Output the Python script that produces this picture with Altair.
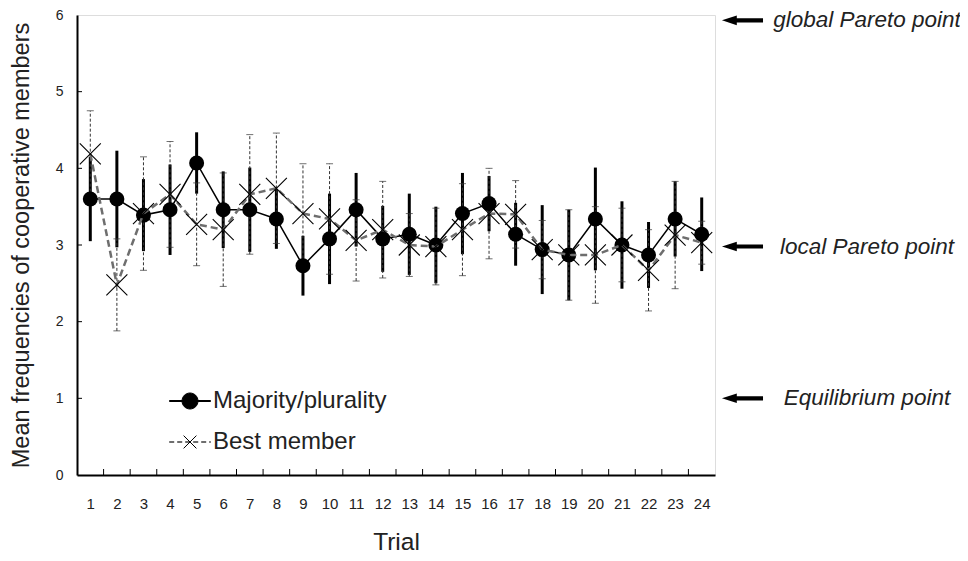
import altair as alt
import pandas as pd

# ---------------- data ----------------
trials = list(range(1, 25))
maj_mean = [3.60, 3.60, 3.39, 3.46, 4.07, 3.46, 3.46, 3.34, 2.73, 3.08, 3.46, 3.08,
            3.14, 3.00, 3.41, 3.54, 3.14, 2.94, 2.87, 3.34, 3.00, 2.87, 3.34, 3.14]
maj_err = [0.55, 0.63, 0.47, 0.59, 0.40, 0.50, 0.55, 0.39, 0.39, 0.59, 0.48, 0.43,
           0.53, 0.50, 0.53, 0.36, 0.41, 0.58, 0.59, 0.67, 0.57, 0.43, 0.49, 0.48]
best_mean = [4.19, 2.48, 3.41, 3.66, 3.27, 3.20, 3.66, 3.74, 3.41, 3.34, 3.06, 3.20,
             3.00, 2.98, 3.20, 3.41, 3.40, 2.94, 2.87, 2.87, 3.00, 2.67, 3.13, 3.03]
best_err = [0.56, 0.60, 0.74, 0.69, 0.54, 0.74, 0.78, 0.72, 0.65, 0.72, 0.53, 0.63,
            0.41, 0.50, 0.60, 0.59, 0.44, 0.38, 0.59, 0.63, 0.48, 0.53, 0.70, 0.28]
series_names = ["Majority/plurality", "Best member"]
y_tick_values = [0, 1, 2, 3, 4, 5, 6]
y_inner_ticks = [1, 2, 3, 4, 5]
x_inner_ticks = [t + 0.5 for t in range(1, 24)]
ann_labels = ["global Pareto point", "local Pareto point", "Equilibrium point"]
ann_values = [5.93, 2.98, 1.0]

maj = pd.DataFrame({"trial": trials, "mean": maj_mean,
                    "lo": [m - e for m, e in zip(maj_mean, maj_err)],
                    "hi": [m + e for m, e in zip(maj_mean, maj_err)]})
best = pd.DataFrame({"trial": trials, "mean": best_mean,
                     "lo": [m - e for m, e in zip(best_mean, best_err)],
                     "hi": [m + e for m, e in zip(best_mean, best_err)]})
ann = pd.DataFrame({"label": ann_labels, "val": ann_values})
yt = pd.DataFrame({"v": y_inner_ticks})
xt = pd.DataFrame({"t": x_inner_ticks})
# second legend (markers only) gets its own domain so it is not merged with the line legend
marker_names = [s + " " for s in series_names]
leg = pd.DataFrame({"series": series_names, "series_b": marker_names})

FONT = "Liberation Sans"
x_scale = alt.Scale(domain=[0.5, 24.5], nice=False, zero=False)
y_scale = alt.Scale(domain=[0, 6], nice=False, zero=False)
x_axis = alt.Axis(values=trials, title="Trial", ticks=False, tickSize=0, grid=False,
                  labelPadding=21, titlePadding=19, labelFontSize=15, titleFontSize=24.5,
                  labelFlush=False, labelOverlap=False, domainWidth=2, domainColor="black",
                  labelColor="#222", titleColor="#222", titleFontWeight="normal",
                  labelFont=FONT, titleFont=FONT)
y_axis = alt.Axis(values=y_tick_values, title="Mean frequencies of cooperative members",
                  ticks=False, tickSize=0, grid=False, labelPadding=14, titlePadding=22,
                  labelFontSize=14, titleFontSize=23.5, labelFlush=False, domainWidth=2,
                  domainColor="black", labelColor="#222", titleColor="#222",
                  titleFontWeight="normal", labelFont=FONT, titleFont=FONT)

H = 460


def X(f):
    return alt.X(f, scale=x_scale, axis=x_axis)


def Y(f):
    return alt.Y(f, scale=y_scale, axis=y_axis)


maj_err_l = alt.Chart(maj).mark_rule(color="black", strokeWidth=3).encode(
    x=X("trial:Q"), y=Y("lo:Q"), y2="hi:Q")
best_err_l = alt.Chart(best).mark_rule(color="#333", strokeWidth=1, strokeDash=[3, 2]).encode(
    x=X("trial:Q"), y=Y("lo:Q"), y2="hi:Q")
best_cap_lo = alt.Chart(best).mark_tick(color="#333", orient="horizontal", size=7, thickness=1).encode(
    x=X("trial:Q"), y=Y("lo:Q"))
best_cap_hi = alt.Chart(best).mark_tick(color="#333", orient="horizontal", size=7, thickness=1).encode(
    x=X("trial:Q"), y=Y("hi:Q"))
maj_line = alt.Chart(maj).mark_line(color="black", strokeWidth=1.5).encode(
    x=X("trial:Q"), y=Y("mean:Q"))
maj_pts = alt.Chart(maj).mark_point(shape="circle", filled=True, color="black", size=225, opacity=1).encode(
    x=X("trial:Q"), y=Y("mean:Q"))
best_line = alt.Chart(best).mark_line(color="#6e6e6e", strokeWidth=2.5, strokeDash=[7, 4]).encode(
    x=X("trial:Q"), y=Y("mean:Q"))
best_pts = alt.Chart(best).mark_point(shape="M-1,-1L1,1M-1,1L1,-1", filled=False, color="black",
                                      strokeWidth=1.1, size=441, opacity=1).encode(
    x=X("trial:Q"), y=Y("mean:Q"))

y_ticks_l = alt.Chart(yt).mark_rule(color="black", strokeWidth=1).encode(
    y=Y("v:Q"), x=alt.value(0), x2=alt.value(5))
x_ticks_l = alt.Chart(xt).mark_rule(color="black", strokeWidth=1).encode(
    x=X("t:Q"), y=alt.value(H), y2=alt.value(H - 6))

arrow_path = "M-1.8,0L-0.5,-0.42L-0.5,-0.18L1.8,-0.18L1.8,0.18L-0.5,0.18L-0.5,0.42Z"
ann_arrows = alt.Chart(ann).mark_point(shape=arrow_path, filled=True, color="black", size=520,
                                       opacity=1).encode(
    y=Y("val:Q"), x=alt.value(665.5))
ann_text = alt.Chart(ann).mark_text(font=FONT, fontSize=22.5, fontStyle="italic", color="#222",
                                    align="center", baseline="middle").encode(
    y=Y("val:Q"), x=alt.value(790), text="label:N")

# legend (built from the legend scales)
leg_common = dict(orient="none", legendX=101, legendY=374, title=None, symbolSize=256,
                  labelFontSize=24, labelFont=FONT, labelOffset=11, rowPadding=17, padding=0,
                  symbolOpacity=1, labelLimit=400, direction="vertical", labelColor="#222")
line_path = "M-2.6,0L2.6,0"
markB_maj = "M-1,0A1,1 0 1,0 1,0A1,1 0 1,0 -1,0Z"
markB_best = "M-0.8,-0.8L0.8,0.8M-0.8,0.8L0.8,-0.8"
legA = alt.Chart(leg).mark_point(opacity=0, filled=False, strokeWidth=2).encode(
    color=alt.Color("series:N", scale=alt.Scale(domain=series_names, range=["black", "#6e6e6e"]),
                    legend=alt.Legend(symbolType=line_path, symbolStrokeWidth=2.2, **leg_common)),
    strokeDash=alt.StrokeDash("series:N", scale=alt.Scale(domain=series_names, range=[[1, 0], [5, 3]]),
                              legend=alt.Legend(symbolType=line_path, symbolStrokeWidth=2.2, **leg_common)))
legB = alt.Chart(leg).mark_point(opacity=0, filled=True, fill="black", stroke="black", strokeWidth=1).encode(
    shape=alt.Shape("series_b:N", scale=alt.Scale(domain=marker_names, range=[markB_maj, markB_best]),
                    legend=alt.Legend(symbolStrokeWidth=1, labelOpacity=0, **leg_common)))

chart = alt.layer(
    maj_err_l, best_err_l, best_cap_lo, best_cap_hi, maj_line, maj_pts, best_line, best_pts,
    y_ticks_l, x_ticks_l, ann_arrows, ann_text, legA, legB
).properties(
    width=638, height=H,
    autosize=alt.AutoSizeParams(type="none"),
    padding={"left": 69, "top": 7, "right": 245, "bottom": 78},
).configure_view(stroke="black", strokeWidth=1).configure(background="white")

chart.save("out.html", embed_options={"renderer": "svg", "actions": False})
